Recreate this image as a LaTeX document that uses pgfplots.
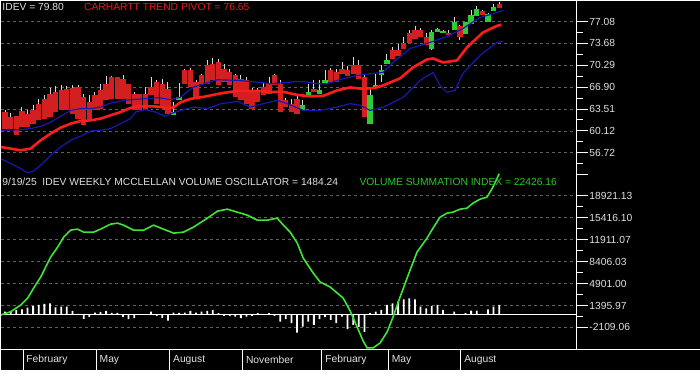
\documentclass[border=0pt]{standalone}
\usepackage{fontspec}
\setmainfont{Liberation Sans}
\usepackage{pgfplots}
\usepackage{pgfplotstable}
\pgfplotsset{compat=1.18}
\definecolor{txtgray}{RGB}{225,225,225}
\definecolor{candred}{RGB}{210,32,32}
\definecolor{candgreen}{RGB}{46,204,52}
\definecolor{pivred}{RGB}{255,28,28}
\definecolor{bandblue}{RGB}{24,24,180}
\definecolor{vsigreen}{RGB}{60,230,50}
\definecolor{titgreen}{RGB}{40,200,40}
\definecolor{titred}{RGB}{225,30,30}
\definecolor{gridgray}{RGB}{95,95,95}
\definecolor{wickgray}{RGB}{215,215,215}

\pgfplotstableread{
x p
-0.76 57.62
2.79 57.11
4.57 57.37
6.35 58.66
8.12 59.69
9.90 60.62
11.68 61.24
13.46 61.65
15.24 61.75
17.01 62.02
18.79 62.53
20.57 63.04
22.35 63.69
24.12 63.92
26.44 63.92
27.68 63.84
28.92 63.61
30.00 63.77
31.24 64.54
33.01 65.08
35.33 65.39
38.35 65.93
41.37 66.32
44.92 66.32
47.24 66.17
49.55 66.17
52.04 65.70
54.35 65.47
56.66 65.55
59.15 66.40
61.46 66.86
63.77 66.63
65.90 66.79
67.32 67.17
70.35 68.26
72.66 69.96
75.15 71.20
76.22 71.35
78.00 70.73
80.48 71.04
82.26 73.05
85.10 75.38
87.59 76.40
88.40 76.60
}\pivot

\pgfplotstableread{
x p
-0.76 60.21
2.79 60.31
4.57 60.47
6.35 60.83
8.12 61.49
9.90 62.37
11.68 63.30
13.46 63.57
15.24 63.57
17.01 63.81
18.79 64.43
20.57 64.74
22.35 64.96
25.01 65.11
27.32 65.27
29.46 64.96
31.24 65.36
33.55 66.91
37.81 68.05
41.37 67.95
44.92 67.68
47.24 67.43
49.02 67.53
52.04 67.79
53.81 67.68
55.59 67.43
57.37 67.43
60.21 68.21
62.70 68.72
65.01 68.98
67.32 69.18
69.10 70.73
72.13 72.90
75.68 73.83
78.71 74.76
81.55 76.00
84.57 77.70
87.59 78.47
88.66 78.78
}\upband

\pgfplotstableread{
x p
-0.76 55.82
1.01 55.05
2.79 54.28
3.98 53.60
5.16 53.91
6.35 54.79
8.12 56.34
9.90 57.62
11.68 58.66
13.46 59.28
15.24 60.10
17.01 60.21
18.79 60.47
20.57 61.24
22.35 62.02
23.23 63.04
25.01 63.41
26.79 63.04
28.57 62.37
29.46 62.79
31.77 63.41
33.55 63.81
36.04 63.57
38.35 64.31
41.37 64.70
43.68 63.81
45.99 64.34
48.48 64.85
50.26 64.34
53.10 63.30
56.12 63.30
59.15 63.81
61.46 64.34
63.24 64.08
65.01 63.30
67.32 63.77
70.88 65.31
73.90 67.95
76.22 69.18
77.46 67.17
78.71 66.09
80.13 66.40
81.55 69.03
84.57 71.82
87.59 73.83
88.66 73.98
}\loband

\pgfplotstableread{
x v
0 414
1 526
2 685
3 797
4 1051
5 1322
6 1481
7 1641
8 1752
9 1115
10 1211
11 1211
12 526
13 50
14 -749
15 -430
16 255
17 366
18 526
19 207
20 207
21 -430
22 -797
23 -637
24 -112
25 -112
26 414
27 -271
28 -637
29 -1020
30 255
31 207
32 255
33 526
34 255
35 414
36 526
37 685
38 160
39 -271
40 -271
41 -382
42 -637
43 -382
44 -271
45 160
46 30
47 160
48 -271
49 -1179
50 -797
51 -1434
52 -2931
53 -1975
54 -1179
55 -1705
56 -797
57 -478
58 -908
59 -1434
60 -382
61 -2390
62 -1705
63 -2023
64 -2820
65 160
66 414
67 685
68 1481
69 1752
70 2007
71 2390
72 2549
73 2390
74 1211
75 956
76 1322
77 1481
78 685
79 50
80 414
81 -100
82 160
83 573
84 573
85 50
86 797
87 1211
88 1484
}\osc

\pgfplotstableread{
x v
-0.76 -118
1.01 406
2.79 1475
4.04 2591
5.10 4184
6.35 5936
8.12 9123
9.37 10716
10.44 12309
11.68 13424
12.92 13583
13.99 13105
15.77 13105
17.01 13583
18.79 14380
20.04 14539
21.10 14221
22.88 13424
24.66 13424
26.44 14221
28.21 13583
30.00 12946
31.77 13105
33.55 13902
36.04 15336
37.81 16451
39.59 16770
41.37 16292
43.15 15814
44.92 15018
46.70 15018
48.48 15336
49.55 14221
50.79 13105
52.04 11353
53.10 8963
54.88 6573
56.12 5140
57.90 4343
59.15 3387
60.21 2591
61.46 520
62.70 -2029
63.77 -4262
64.48 -5377
65.55 -5377
66.79 -4580
68.04 -2827
69.10 -438
70.35 2750
72.13 7052
73.37 9920
75.15 12150
76.22 13743
77.46 15496
78.71 16133
79.77 16292
81.02 16770
82.26 16929
83.33 17725
84.57 18363
85.82 18682
86.88 20275
88.00 22426
}\vsi

\pgfplotsset{
  panel/.style={
    scale only axis, width=577pt, height=175pt, anchor=south west,
    xmin=-0.764, xmax=101.81,
    axis x line=none, axis y line*=right,
    axis line style={white, line width=1.1pt, -},
    tick align=outside, major tick length=11pt, minor tick length=6pt,
    ytick style={white, line width=0.9pt},
    scaled y ticks=false,
    yticklabel style={text=txtgray, font=\fontsize{10.3}{12}\selectfont, inner sep=0pt, xshift=1.5pt},
    ymajorgrids, major grid style={gridgray, dash pattern=on 3pt off 3pt, line width=0.6pt},
  },
}

\begin{document}
\begin{tikzpicture}[font=\fontsize{10.3}{12}\selectfont]
\fill[black] (0,0) rectangle (700pt,370pt);

% upper panel
\begin{axis}[panel, at={(0pt,195pt)}, ymin=53.24, ymax=80.33,
  unbounded coords=jump,
  ytick={56.72,60.12,63.51,66.90,70.29,73.68,77.08},
  yticklabels={56.72,60.12,63.51,66.90,70.29,73.68,77.08},
  minor ytick={55.02,58.42,61.815,65.205,68.595,71.985,75.38},
  extra y ticks={53.33}, extra y tick labels={}, extra y tick style={grid=none}]
  % wicks: high to low, one segment per week
  \addplot[wickgray, line width=0.9pt] coordinates {
  (0,63.30)(0,60.36)(0,nan) (1,62.84)(1,60.47)(1,nan) (2,62.37)(2,59.43)(2,nan)
  (3,63.81)(3,60.72)(3,nan) (4,63.30)(4,60.72)(4,nan) (5,64.08)(5,61.24)(5,nan)
  (6,65.11)(6,61.75)(6,nan) (7,65.62)(7,62.02)(7,nan) (8,66.82)(8,62.26)(8,nan)
  (9,67.02)(9,63.04)(9,nan) (10,67.17)(10,63.30)(10,nan) (11,67.02)(11,63.30)(11,nan)
  (12,67.17)(12,62.79)(12,nan) (13,67.17)(13,62.02)(13,nan) (14,65.78)(14,60.98)(14,nan)
  (15,65.62)(15,62.02)(15,nan) (16,66.13)(16,63.30)(16,nan) (17,67.43)(17,63.57)(17,nan)
  (18,68.57)(18,64.85)(18,nan) (19,68.57)(19,65.11)(19,nan) (20,68.46)(20,65.11)(20,nan)
  (21,68.72)(21,65.11)(21,nan) (22,67.43)(22,64.34)(22,nan) (23,66.09)(23,63.30)(23,nan)
  (24,65.78)(24,63.30)(24,nan) (25,66.91)(25,63.30)(25,nan) (26,68.46)(26,65.62)(26,nan)
  (27,67.95)(27,64.34)(27,nan) (28,68.21)(28,63.81)(28,nan) (29,67.68)(29,62.79)(29,nan)
  (30,64.59)(30,62.53)(30,nan) (31,67.53)(31,64.85)(31,nan) (32,69.76)(32,67.43)(32,nan)
  (33,69.80)(33,66.91)(33,nan) (34,67.95)(34,65.36)(34,nan) (35,68.98)(35,67.43)(35,nan)
  (36,71.04)(36,67.43)(36,nan) (37,71.46)(37,67.95)(37,nan) (38,71.31)(38,67.17)(38,nan)
  (39,70.42)(39,67.68)(39,nan) (40,69.76)(40,67.17)(40,nan) (41,68.98)(41,65.36)(41,nan)
  (42,68.83)(42,64.85)(42,nan) (43,68.46)(43,64.34)(43,nan) (44,66.71)(44,63.57)(44,nan)
  (45,66.71)(45,64.59)(45,nan) (46,67.48)(46,65.62)(46,nan) (47,68.46)(47,65.89)(47,nan)
  (48,68.98)(48,67.17)(48,nan) (49,67.95)(49,63.04)(49,nan) (50,65.16)(50,63.81)(50,nan)
  (51,65.11)(51,63.04)(51,nan) (52,65.62)(52,62.79)(52,nan) (53,64.85)(53,63.30)(53,nan)
  (54,67.43)(54,65.62)(54,nan) (55,68.05)(55,66.13)(55,nan) (56,68.05)(56,65.89)(56,nan)
  (57,69.49)(57,67.53)(57,nan) (58,69.80)(58,67.68)(58,nan) (59,69.76)(59,67.68)(59,nan)
  (60,70.78)(60,68.98)(60,nan) (61,70.11)(61,68.57)(61,nan) (62,71.55)(62,68.98)(62,nan)
  (63,71.15)(63,68.21)(63,nan) (64,68.98)(64,62.26)(64,nan) (65,66.66)(65,61.13)(65,nan)
  (66,68.98)(66,66.71)(66,nan) (67,70.27)(67,67.68)(67,nan) (68,72.08)(68,70.42)(68,nan)
  (69,73.10)(69,71.31)(69,nan) (70,73.63)(70,71.66)(70,nan) (71,74.65)(71,72.85)(71,nan)
  (72,75.69)(72,73.72)(72,nan) (73,76.46)(73,74.40)(73,nan) (74,76.00)(74,74.65)(74,nan)
  (75,75.22)(75,73.36)(75,nan) (76,75.69)(76,72.59)(76,nan) (77,76.15)(77,75.42)(77,nan)
  (78,75.84)(78,75.22)(78,nan) (79,75.69)(79,75.02)(79,nan) (80,77.74)(80,75.79)(80,nan)
  (81,76.61)(81,74.25)(81,nan) (82,77.08)(82,75.18)(82,nan) (83,78.89)(83,76.72)(83,nan)
  (84,79.56)(84,78.01)(84,nan) (85,78.94)(85,78.16)(85,nan) (86,78.47)(86,76.97)(86,nan)
  (87,79.82)(87,78.78)(87,nan) (88,80.07)(88,79.20)(88,nan)
  };
  % red bodies: open to close
  \addplot[candred, line width=5.3pt] coordinates {
  (0,63.04)(0,60.36)(0,nan) (1,62.26)(1,60.47)(1,nan) (2,62.37)(2,59.43)(2,nan)
  (3,63.19)(3,60.72)(3,nan) (4,62.79)(4,60.72)(4,nan) (5,63.30)(5,61.24)(5,nan)
  (6,64.34)(6,61.75)(6,nan) (7,65.11)(7,62.02)(7,nan) (8,65.89)(8,62.26)(8,nan)
  (9,66.13)(9,63.04)(9,nan) (10,66.40)(10,63.30)(10,nan) (11,66.66)(11,63.30)(11,nan)
  (12,66.82)(12,62.79)(12,nan) (13,66.91)(13,62.02)(13,nan) (14,65.36)(14,60.98)(14,nan)
  (15,64.59)(15,62.02)(15,nan) (16,65.62)(16,63.30)(16,nan) (17,66.40)(17,63.57)(17,nan)
  (18,67.43)(18,64.85)(18,nan) (19,68.46)(19,65.11)(19,nan) (20,68.46)(20,65.11)(20,nan)
  (21,68.21)(21,65.11)(21,nan) (22,67.43)(22,64.34)(22,nan) (23,65.89)(23,63.30)(23,nan)
  (24,65.78)(24,63.30)(24,nan) (25,65.89)(25,63.30)(25,nan) (26,66.91)(26,65.62)(26,nan)
  (27,67.68)(27,64.34)(27,nan) (28,67.43)(28,63.81)(28,nan) (29,66.66)(29,62.79)(29,nan)
  (32,69.49)(32,67.43)(32,nan) (33,69.49)(33,66.91)(33,nan) (34,67.68)(34,65.36)(34,nan)
  (35,68.72)(35,67.43)(35,nan) (36,70.27)(36,67.43)(36,nan) (37,70.53)(37,67.95)(37,nan)
  (38,70.78)(38,67.17)(38,nan) (39,69.76)(39,67.68)(39,nan) (40,69.23)(40,67.17)(40,nan)
  (41,68.72)(41,65.36)(41,nan) (42,68.21)(42,64.85)(42,nan) (43,67.95)(43,64.34)(43,nan)
  (44,66.40)(44,63.57)(44,nan) (45,66.40)(45,64.59)(45,nan) (46,66.91)(46,65.62)(46,nan)
  (47,67.43)(47,65.89)(47,nan) (48,68.72)(48,67.17)(48,nan) (49,67.43)(49,63.04)(49,nan)
  (50,64.85)(50,63.81)(50,nan) (51,64.34)(51,63.04)(51,nan) (52,65.11)(52,62.79)(52,nan)
  (55,66.66)(55,66.13)(55,nan) (58,69.49)(58,67.68)(58,nan) (59,69.23)(59,67.68)(59,nan)
  (60,69.76)(60,68.98)(60,nan) (61,69.60)(61,68.57)(61,nan) (62,70.27)(62,68.98)(62,nan)
  (63,70.27)(63,68.21)(63,nan) (64,68.46)(64,62.26)(64,nan) (69,72.59)(69,71.31)(69,nan)
  (70,72.59)(70,71.66)(70,nan) (71,73.72)(71,72.85)(71,nan) (72,75.27)(72,73.72)(72,nan)
  (73,75.69)(73,74.40)(73,nan) (74,75.69)(74,74.65)(74,nan) (75,74.65)(75,73.36)(75,nan)
  (79,75.27)(79,75.02)(79,nan) (81,76.46)(81,74.65)(81,nan) (85,78.78)(85,78.16)(85,nan)
  (88,79.82)(88,79.20)(88,nan)
  };
  % green bodies: open to close
  \addplot[candgreen, line width=5.3pt] coordinates {
  (30,62.53)(30,63.04)(30,nan) (31,64.85)(31,65.36)(31,nan) (53,63.30)(53,64.08)(53,nan)
  (54,65.62)(54,66.13)(54,nan) (56,65.89)(56,66.40)(56,nan) (57,67.53)(57,68.05)(57,nan)
  (65,61.24)(65,65.62)(65,nan) (66,66.82)(66,67.17)(66,nan) (67,68.72)(67,69.49)(67,nan)
  (68,70.42)(68,71.15)(68,nan) (76,72.85)(76,75.42)(76,nan) (77,75.42)(77,75.95)(77,nan)
  (78,75.22)(78,75.58)(78,nan) (80,75.79)(80,76.97)(80,nan) (82,75.18)(82,76.97)(82,nan)
  (83,76.72)(83,78.16)(83,nan) (84,78.01)(84,79.05)(84,nan) (86,76.97)(86,78.27)(86,nan)
  (87,78.78)(87,79.29)(87,nan)
  };
  \addplot[bandblue, line width=1.2pt, line join=round] table[x=x, y=p] {\upband};
  \addplot[bandblue, line width=1.2pt, line join=round] table[x=x, y=p] {\loband};
  \addplot[pivred, line width=2.6pt, line join=round] table[x=x, y=p] {\pivot};
\end{axis}

% lower panel
\begin{axis}[panel, at={(0pt,20pt)}, ymin=-5693, ymax=22187, clip=false,
  ytick={-2109.06,1395.97,4901.00,8406.03,11911.07,15416.10,18921.13},
  yticklabels={-2109.06,1395.97,4901.00,8406.03,11911.07,15416.10,18921.13},
  minor ytick={-356.5,3148.5,6653.5,10158.55,13663.6,17168.6}]
  \addplot[white, line width=1pt] coordinates {(-0.764,0) (101.81,0)};
  \addplot[ybar, bar width=1.8pt, fill=white, draw=none] table[x=x, y=v] {\osc};
  \addplot[vsigreen, line width=1.6pt, line join=round] table[x=x, y=v] {\vsi};
\end{axis}

% month strip
\begin{axis}[scale only axis, width=577pt, height=20pt, at={(0pt,0pt)}, anchor=south west,
  xmin=-0.764, xmax=101.81, ymin=0, ymax=1,
  axis line style={draw=none}, ytick=\empty,
  xtick={3.2,16.25,29.33,42.31,56.43,68.27,81.19}, xticklabels={}, major tick length=0pt,
  xmajorgrids, major grid style={white, line width=1pt}]
  \node[anchor=west, text=txtgray, inner sep=0pt, xshift=3.2pt] at (axis cs:3.2,0.5) {February};
  \node[anchor=west, text=txtgray, inner sep=0pt, xshift=3.2pt] at (axis cs:16.25,0.5) {May};
  \node[anchor=west, text=txtgray, inner sep=0pt, xshift=3.2pt] at (axis cs:29.33,0.5) {August};
  \node[anchor=west, text=txtgray, inner sep=0pt, xshift=3.2pt] at (axis cs:42.31,0.5) {November};
  \node[anchor=west, text=txtgray, inner sep=0pt, xshift=3.2pt] at (axis cs:56.43,0.5) {February};
  \node[anchor=west, text=txtgray, inner sep=0pt, xshift=3.2pt] at (axis cs:68.27,0.5) {May};
  \node[anchor=west, text=txtgray, inner sep=0pt, xshift=3.2pt] at (axis cs:81.19,0.5) {August};
\end{axis}
\draw[white, line width=1pt] (0,20pt) -- (700pt,20pt);

\node[anchor=west, inner sep=0pt, text=txtgray] at (1.5pt,364pt) {IDEV = 79.80};
\node[anchor=west, inner sep=0pt, text=titred] at (83.3pt,364pt) {CARHARTT TREND PIVOT = 76.65};
\node[anchor=west, inner sep=0pt, text=txtgray] at (1.5pt,188.3pt) {9/19/25\ \ IDEV WEEKLY MCCLELLAN VOLUME OSCILLATOR = 1484.24};
\node[anchor=west, inner sep=0pt, text=titgreen] at (359.3pt,188.3pt) {VOLUME SUMMATION INDEX = 22426.16};
\end{tikzpicture}
\end{document}
